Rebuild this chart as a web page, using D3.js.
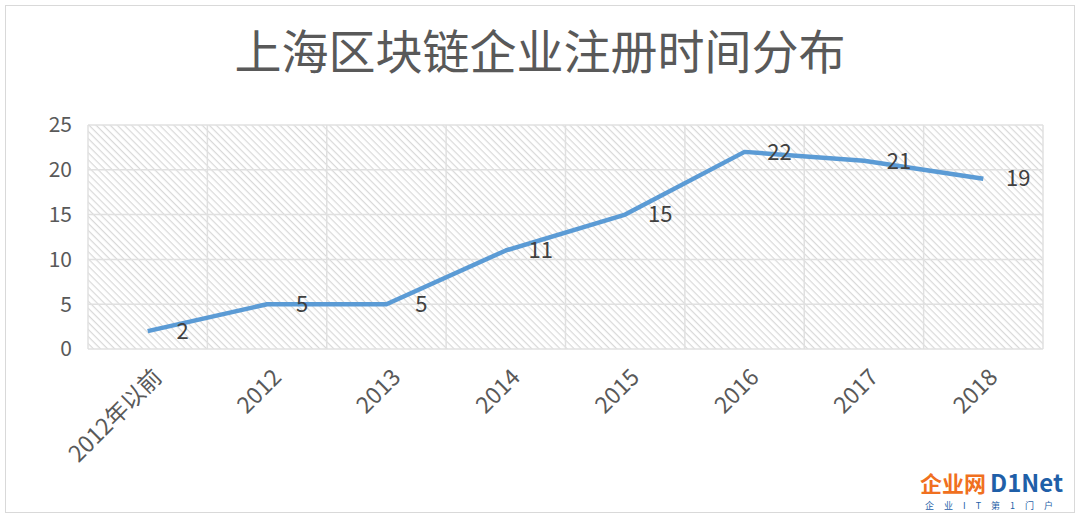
<!DOCTYPE html>
<html>
<head>
<meta charset="utf-8">
<script src="https://cdn.jsdelivr.net/npm/d3@7"></script>
<style>
  body { margin: 0; background: #fff; }
  text { font-family: "Noto Sans CJK SC", "Noto Sans", sans-serif; }
</style>
</head>
<body>
<div id="vis"></div>
<script>
const categories = ["2012年以前", "2012", "2013", "2014", "2015", "2016", "2017", "2018"];
const values = [2, 5, 5, 11, 15, 22, 21, 19];
const yTicks = [0, 5, 10, 15, 20, 25];
const title = "上海区块链企业注册时间分布";

const width = 1080, height = 519;
const margin = {left: 88, right: 37, top: 125, bottom: 170};

const svg = d3.select("#vis").append("svg")
    .attr("width", width)
    .attr("height", height);

const defs = svg.append("defs");
const pat = defs.append("pattern")
    .attr("id", "hatch")
    .attr("patternUnits", "userSpaceOnUse")
    .attr("width", 5).attr("height", 5)
    .attr("patternTransform", "rotate(45)");
pat.append("rect").attr("width", 5).attr("height", 5).attr("fill", "#fff");
pat.append("line").attr("x1", 0).attr("y1", 0).attr("x2", 5).attr("y2", 0)
    .attr("stroke", "#d9d9d9").attr("stroke-width", 2.4);

svg.append("rect")
    .attr("x", 5.5).attr("y", 5.5)
    .attr("width", width - 11).attr("height", height - 12)
    .attr("fill", "none").attr("stroke", "#d9d9d9");

const x = d3.scaleBand().domain(categories).range([margin.left, width - margin.right]);
const y = d3.scaleLinear().domain([0, 25]).range([height - margin.bottom, margin.top]);

svg.append("rect")
    .attr("x", margin.left).attr("y", margin.top)
    .attr("width", width - margin.left - margin.right)
    .attr("height", height - margin.top - margin.bottom)
    .attr("fill", "url(#hatch)");

// grid
svg.append("g").selectAll("line").data(yTicks).join("line")
    .attr("x1", margin.left).attr("x2", width - margin.right)
    .attr("y1", d => y(d)).attr("y2", d => y(d))
    .attr("stroke", "#e0e0e0").attr("stroke-width", 1.5);
svg.append("g").selectAll("line").data(categories.concat([null])).join("line")
    .attr("x1", (d, i) => margin.left + i * x.step())
    .attr("x2", (d, i) => margin.left + i * x.step())
    .attr("y1", margin.top).attr("y2", y(0))
    .attr("stroke", "#e0e0e0").attr("stroke-width", 1.5);

// y labels
svg.append("g").selectAll("text").data(yTicks).join("text")
    .attr("x", margin.left - 16).attr("y", d => y(d))
    .attr("dy", "0.35em").attr("text-anchor", "end")
    .attr("font-size", 21).attr("fill", "#595959")
    .text(d => d);

// x labels
svg.append("g").selectAll("text").data(categories).join("text")
    .attr("transform", d => `translate(${x(d) + x.bandwidth() / 2 + 10},${y(0) + 24}) rotate(-45)`)
    .attr("text-anchor", "end").attr("dy", "0.35em")
    .attr("font-size", 23).attr("fill", "#595959")
    .text(d => d);

const line = d3.line()
    .x((d, i) => x(categories[i]) + x.bandwidth() / 2)
    .y(d => y(d));
svg.append("path").datum(values)
    .attr("d", line)
    .attr("fill", "none").attr("stroke", "#5b9bd5")
    .attr("stroke-width", 4.5).attr("stroke-linejoin", "round");

svg.append("g").selectAll("text").data(values).join("text")
    .attr("x", (d, i) => x(categories[i]) + x.bandwidth() / 2 + 35)
    .attr("y", d => y(d))
    .attr("dy", "0.35em").attr("text-anchor", "middle")
    .attr("font-size", 22).attr("fill", "#404040")
    .text(d => d);

svg.append("text")
    .attr("x", 540).attr("y", 53)
    .attr("dy", "0.35em").attr("text-anchor", "middle")
    .attr("font-size", 47).attr("fill", "#595959")
    .text(title);

// watermark
svg.append("text").attr("x", 920).attr("y", 492)
    .attr("font-size", 22).attr("font-weight", "bold").attr("fill", "#f07020")
    .text("企业网");
svg.append("text").attr("x", 990).attr("y", 492)
    .attr("font-size", 24).attr("font-weight", "bold").attr("fill", "#1f5fa8")
    .text("D1Net");
svg.append("text").attr("x", 925).attr("y", 509)
    .attr("font-size", 9).attr("fill", "#1f5fa8").attr("letter-spacing", 10)
    .text("企业IT第1门户");
</script>
</body>
</html>
